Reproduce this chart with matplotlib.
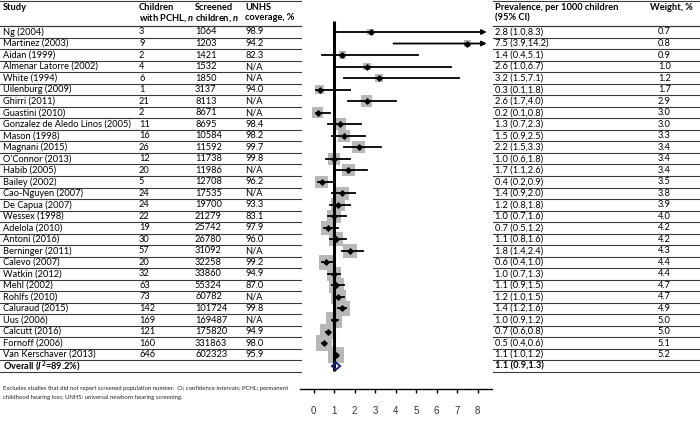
import numpy as np
import matplotlib.pyplot as plt
from matplotlib.patches import Polygon

plt.rcParams["font.family"] = ["Lato", "DejaVu Sans"]
plt.rcParams["mathtext.fontset"] = "custom"
plt.rcParams["mathtext.rm"] = "Lato:bold"
plt.rcParams["mathtext.it"] = "Lato:bold:italic"
plt.rcParams["mathtext.bf"] = "Lato:bold"

studies = ["Ng (2004)", "Martinez (2003)", "Aidan (1999)", "Almenar Latorre (2002)", "White (1994)",
           "Uilenburg (2009)", "Ghirri (2011)", "Guastini (2010)", "Gonzalez de Aledo Linos (2005)",
           "Mason (1998)", "Magnani (2015)", "O'Connor (2013)", "Habib (2005)", "Bailey (2002)",
           "Cao-Nguyen (2007)", "De Capua (2007)", "Wessex (1998)", "Adelola (2010)", "Antoni (2016)",
           "Berninger (2011)", "Calevo (2007)", "Watkin (2012)", "Mehl (2002)", "Rohlfs (2010)",
           "Caluraud (2015)", "Uus (2006)", "Calcutt (2016)", "Fornoff (2006)", "Van Kerschaver (2013)"]
n_pchl = [3, 9, 2, 4, 6, 1, 21, 2, 11, 16, 26, 12, 20, 5, 24, 24, 22, 19, 30, 57, 20, 32, 63, 73,
          142, 169, 121, 160, 646]
n_screened = [1064, 1203, 1421, 1532, 1850, 3137, 8113, 8671, 8695, 10584, 11592, 11738, 11986,
              12708, 17535, 19700, 21279, 25742, 26780, 31092, 32258, 33860, 55324, 60782,
              101724, 169487, 175820, 331863, 602323]
unhs = ["98.9", "94.2", "82.3", "N/A", "N/A", "94.0", "N/A", "N/A", "98.4", "98.2", "99.7", "99.8",
        "N/A", "96.2", "N/A", "93.3", "83.1", "97.9", "96.0", "N/A", "99.2", "94.9", "87.0", "N/A",
        "99.8", "N/A", "94.9", "98.0", "95.9"]
prev = [2.8, 7.5, 1.4, 2.6, 3.2, 0.3, 2.6, 0.2, 1.3, 1.5, 2.2, 1.0, 1.7, 0.4, 1.4, 1.2, 1.0, 0.7,
        1.1, 1.8, 0.6, 1.0, 1.1, 1.2, 1.4, 1.0, 0.7, 0.5, 1.1]
lo = [1.0, 3.9, 0.4, 1.0, 1.5, 0.1, 1.7, 0.1, 0.7, 0.9, 1.5, 0.6, 1.1, 0.2, 0.9, 0.8, 0.7, 0.5,
      0.8, 1.4, 0.4, 0.7, 0.9, 1.0, 1.2, 0.9, 0.6, 0.4, 1.0]
hi = [8.3, 14.2, 5.1, 6.7, 7.1, 1.8, 4.0, 0.8, 2.3, 2.5, 3.3, 1.8, 2.6, 0.9, 2.0, 1.8, 1.6, 1.2,
      1.6, 2.4, 1.0, 1.3, 1.5, 1.5, 1.6, 1.2, 0.8, 0.6, 1.2]
weight = [0.7, 0.8, 0.9, 1.0, 1.2, 1.7, 2.9, 3.0, 3.0, 3.3, 3.4, 3.4, 3.4, 3.5, 3.8, 3.9, 4.0, 4.2,
          4.2, 4.3, 4.4, 4.4, 4.7, 4.7, 4.9, 5.0, 5.0, 5.1, 5.2]
overall = (1.1, 0.9, 1.3)
overall_label = "Overall ($I^{2}$=89.2%)"
footnote = ("Excludes studies that did not report screened population number.  CI: confidence intervals; PCHL: permanent\n"
            "childhood hearing loss; UNHS: universal newborn hearing screening.")

W, H = 700, 423
row0, step = 32, 11.52          # pixel y of first row, row spacing
def row_of(px):
    return (px - row0) / step

fig = plt.figure(figsize=(7, 4.23), dpi=100)

# table layer, x in pixels, y in rows
tab = fig.add_axes([0, 0, 1, 1])
tab.set_xlim(0, W)
tab.set_ylim(row_of(H), row_of(0))
tab.axis("off")

fs = 6.7
line_c = "#3a3a3a"
nrow = len(studies)
rows = np.arange(nrow)

# headers
h1, h2 = row_of(7), row_of(18)
tab.text(3, h1, "Study", fontsize=fs, fontweight="bold", va="center")
tab.text(139, h1, "Children", fontsize=fs, fontweight="bold", va="center")
tab.text(139, h2, "with PCHL, $n$", fontsize=fs, fontweight="bold", va="center")
tab.text(195, h1, "Screened", fontsize=fs, fontweight="bold", va="center")
tab.text(195, h2, "children, $n$", fontsize=fs, fontweight="bold", va="center")
tab.text(245, h1, "UNHS", fontsize=fs, fontweight="bold", va="center")
tab.text(245, h2, "coverage, %", fontsize=fs, fontweight="bold", va="center")
tab.text(495, h1, "Prevalence, per 1000 children", fontsize=fs, fontweight="bold", va="center")
tab.text(495, h2, "(95% CI)", fontsize=fs, fontweight="bold", va="center")
tab.text(650, h1, "Weight, %", fontsize=fs, fontweight="bold", va="center")

for xs, xe in [(0, 301), (493, 700)]:
    tab.plot([xs, xe], [row_of(0.6)] * 2, color=line_c, lw=0.8)
    tab.plot([xs, xe], [-0.5, -0.5], color=line_c, lw=0.9)

for i in rows:
    tab.text(3, i, studies[i], fontsize=fs, va="center")
    tab.text(139, i, str(n_pchl[i]), fontsize=fs, va="center")
    tab.text(195, i, str(n_screened[i]), fontsize=fs, va="center")
    tab.text(245, i, unhs[i], fontsize=fs, va="center")
    tab.text(495, i, f"{prev[i]:.1f} ({lo[i]:.1f},{hi[i]:.1f})", fontsize=fs, va="center")
    tab.text(658, i, f"{weight[i]:.1f}", fontsize=fs, va="center")
    for xs, xe in [(0, 301), (493, 700)]:
        tab.plot([xs, xe], [i + 0.5] * 2, color=line_c, lw=0.8)

io = nrow
tab.text(3, io, overall_label, fontsize=fs, fontweight="bold", va="center")
tab.text(495, io, f"{overall[0]:.1f} ({overall[1]:.1f},{overall[2]:.1f})", fontsize=fs,
         fontweight="bold", va="center")
for xs, xe in [(0, 301), (493, 700)]:
    tab.plot([xs, xe], [io + 0.5] * 2, color=line_c, lw=0.8)

tab.text(3, row_of(393), footnote, fontsize=4.3, va="center", linespacing=1.8, color="#222222")

# forest plot layer
px0, unit = 313.5, 20.5
left_px, right_px, top_px, bot_px = 300, 492, 20, 389
ax = fig.add_axes([left_px / W, 1 - bot_px / H, (right_px - left_px) / W, (bot_px - top_px) / H])
ax.patch.set_alpha(0)
ax.set_xlim((left_px - px0) / unit, (right_px - px0) / unit)
ax.set_ylim(row_of(bot_px), row_of(top_px))
for s in ["top", "right", "left"]:
    ax.spines[s].set_visible(False)
ax.spines["bottom"].set_linewidth(1.0)
ax.set_yticks([])
ax.set_xticks(range(0, 9))
ax.tick_params(axis="x", length=3, width=1.0, labelsize=7, pad=9, labelcolor="#333333")
for t in ax.get_xticklabels():
    t.set_fontfamily("Liberation Sans")

cap = 8.45
prev_a = np.array(prev)
lo_a = np.array(lo)
hi_a = np.array(hi)
w_a = np.array(weight)

side_px = 5.5 + 2.0 * w_a
ax.scatter(prev_a, rows, marker="s", s=(side_px * 0.72) ** 2, color="#b8b8b8", lw=0, zorder=2)

for i in rows:
    if hi_a[i] > 8:
        ax.annotate("", xy=(cap, i), xytext=(lo_a[i], i),
                    arrowprops=dict(arrowstyle="-|>", color="black", lw=1.3,
                                    mutation_scale=7, shrinkA=0, shrinkB=0), zorder=3)
    else:
        ax.plot([lo_a[i], hi_a[i]], [i, i], color="black", lw=1.3, zorder=3)
ax.scatter(prev_a, rows, marker="D", s=7, color="black", zorder=4)

ax.vlines(1, row_of(21), row_of(371), color="black", lw=2.2, zorder=5)

dh = 0.3
diamond = Polygon([(overall[1], io), (overall[0], io - dh), (overall[2], io), (overall[0], io + dh)],
                  closed=True, fill=False, edgecolor="#1a237e", lw=1.4, zorder=6)
ax.add_patch(diamond)

plt.savefig("out.png", dpi=100)
